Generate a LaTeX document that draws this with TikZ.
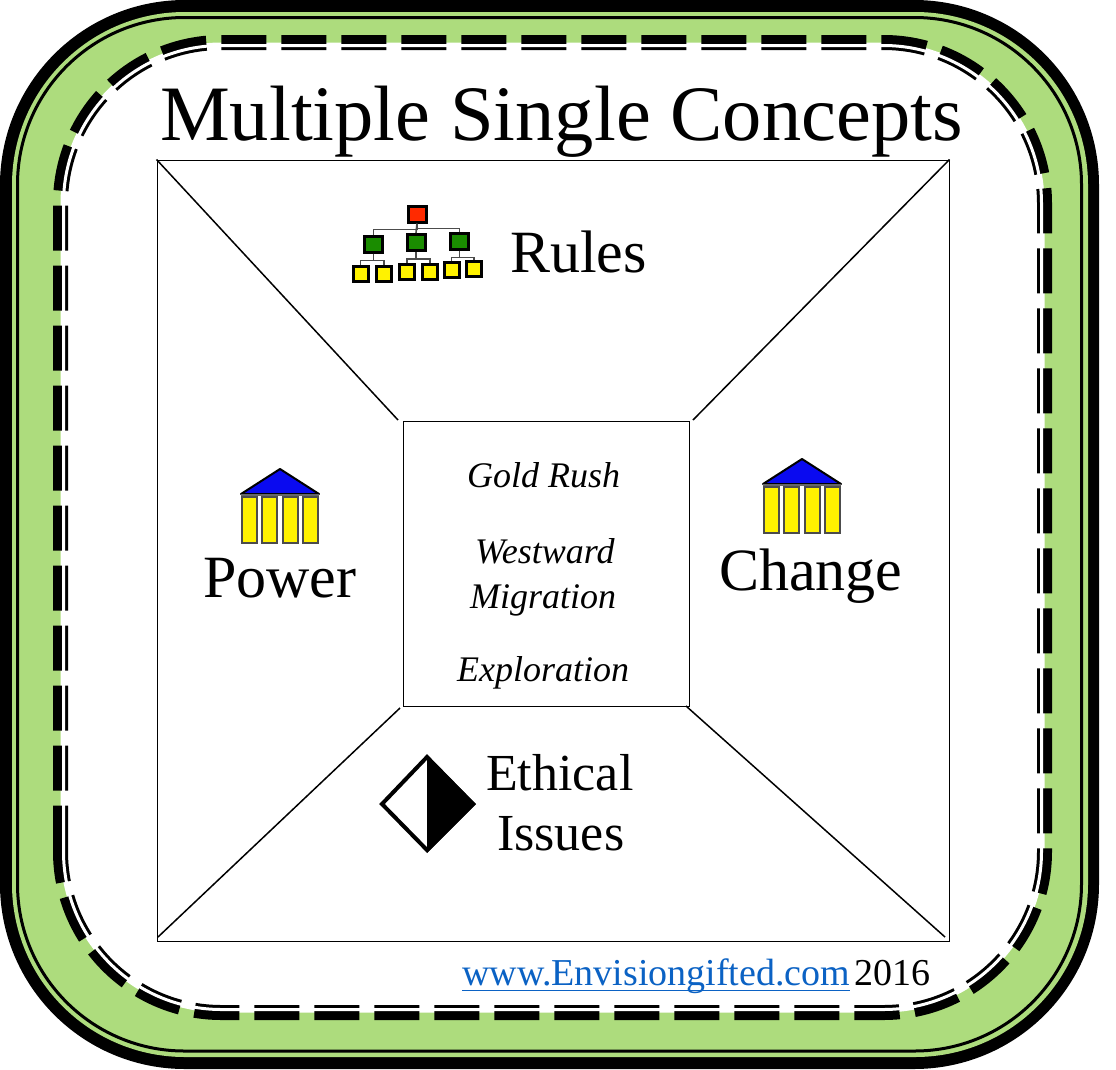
\documentclass[tikz,border=0pt]{standalone}
\usepackage{fontspec}
\setmainfont{Liberation Serif}
\usetikzlibrary{positioning}
\definecolor{framegreen}{HTML}{ADDC7D}
\definecolor{linkblue}{HTML}{0B62C4}
\definecolor{rootred}{HTML}{FF2A00}
\definecolor{leafgreen}{HTML}{1A8C00}
\definecolor{roofblue}{HTML}{0A0AF0}
\begin{document}
\begin{tikzpicture}[x=1pt, y=-1pt,
    thickdash/.style = {line width=15pt, dash pattern=on 45pt off 15pt},
    bigword/.style = {inner sep=0pt, anchor=base west, font=\fontsize{60}{60}\selectfont},
    midword/.style = {inner sep=0pt, anchor=base west, font=\fontsize{52}{52}\selectfont},
    topic/.style = {inner sep=0pt, anchor=base west, font=\fontsize{36}{36}\selectfont\itshape},
    foot/.style = {inner sep=0pt, anchor=base west, font=\fontsize{38}{38}\selectfont},
    orgbox/.style = {draw=black, line width=3pt, inner sep=0pt},
    rootbox/.style = {orgbox, fill=rootred, minimum width=18pt, minimum height=16pt},
    midbox/.style = {orgbox, fill=leafgreen, minimum width=18pt, minimum height=16pt},
    leafbox/.style = {orgbox, fill=yellow, minimum width=15pt, minimum height=15pt},
    orgline/.style = {draw=black!70, line width=1.6pt},
    slant/.style = {line width=1.5pt},
    temple/.pic = {
        \fill[roofblue, draw=black, line width=2pt, line join=round] (0,-25) -- (39,0) -- (-39,0) -- cycle;
        \draw[black!60, line width=2.5pt] (-39,1) -- (39,1);
        \foreach \x in {-30.5,-10.5,10,30.5}
            \draw[fill=yellow, draw=black!70, line width=2pt] (\x-7.5,3) rectangle (\x+7.5,49);
    }]
    \useasboundingbox (0,0) rectangle (1116,1069);
    \fill[black, rounded corners=185pt] (0,0) rectangle (1099,1069);
    \fill[framegreen, rounded corners=173pt] (12,12) rectangle (1088,1057);
    \draw[black, line width=3pt, rounded corners=167pt] (17.5,17.5) rectangle (1081.5,1051);
    \fill[white, rounded corners=161pt] (60.5,42.5) rectangle (1044.5,1012.5);
    \draw[thickdash, rounded corners=161pt] (60.5,850.7) -- (60.5,42.5) -- (1044.5,42.5) -- (1044.5,1012.5) -- (60.5,1012.5) -- (60.5,850.7);
    \draw[white, line width=3pt, rounded corners=158pt] (63.5,45.5) rectangle (1041.5,1009.5);

    \node[inner sep=0pt, anchor=base west, font=\fontsize{78.5}{78.5}\selectfont] (title) at (160,140) {Multiple Single Concepts};

    \node[draw, line width=1pt, inner sep=0pt, minimum width=792pt, minimum height=781pt] (board) at (553,550.5) {};
    \node[draw, line width=1pt, inner sep=0pt, minimum width=286pt, minimum height=285pt] (core) at (546,563.5) {};
    \coordinate (tl) at (398,420);
    \coordinate (tr) at (693,420);
    \coordinate (bl) at (400,708);
    \coordinate (br) at (686,706);
    \coordinate (fl) at (158,937);
    \coordinate (fr) at (945,937);
    \draw[slant] (board.north west) -- (tl);
    \draw[slant] (board.north east) -- (tr);
    \draw[slant] (fl) -- (bl);
    \draw[slant] (fr) -- (br);

    \node[topic] (gold) at (467,487) {Gold Rush};
    \node[topic] (west) at (475,563) {Westward};
    \node[topic] (migr) at (470,608) {Migration};
    \node[topic] (expl) at (457,681) {Exploration};

    \node[rootbox] (r) at (417,214) {};
    \node[midbox] (m1) at (373.5,244) {};
    \node[midbox] (m2) at (416,242.5) {};
    \node[midbox] (m3) at (459.5,241) {};
    \node[leafbox] (l1) at (360.5,273.5) {};
    \node[leafbox] (l2) at (384,273.5) {};
    \node[leafbox] (l3) at (407,271.5) {};
    \node[leafbox] (l4) at (430,271.5) {};
    \node[leafbox] (l5) at (451.5,269.5) {};
    \node[leafbox] (l6) at (474,268.5) {};
    \draw[orgline] (r.south) -- ++(0,6) -| (m1.north);
    \draw[orgline] (r.south) -- (m2.north);
    \draw[orgline] (r.south) -- ++(0,5) -| (m3.north);
    \draw[orgline] (m1.south) -- ++(0,7) -| (l1.north);
    \draw[orgline] (m1.south) -- ++(0,7) -| (l2.north);
    \draw[orgline] (m2.south) -- ++(0,7) -| (l3.north);
    \draw[orgline] (m2.south) -- ++(0,7) -| (l4.north);
    \draw[orgline] (m3.south) -- ++(0,7) -| (l5.north);
    \draw[orgline] (m3.south) -- ++(0,7) -| (l6.north);
    \node[bigword] (rules) at (510,272) {Rules};

    \pic at (280,494) {temple};
    \node[bigword] (power) at (203,597) {Power};
    \pic at (802,484) {temple};
    \node[bigword] (change) at (719,590) {Change};

    \draw[line width=4pt, fill=white, line join=miter] (427,757) -- (382,804) -- (427,850) -- (473,804) -- cycle;
    \fill[black] (427,755) -- (476,804) -- (427,853) -- cycle;
    \node[midword] (ethical) at (486,790) {Ethical};
    \node[midword] (issues) at (497,850) {Issues};

    \node[foot, text=linkblue] (url) at (462,985) {www.Envisiongifted.com};
    \draw[linkblue, line width=1pt] ([yshift=-5pt]url.base west) -- ([yshift=-5pt]url.base east);
    \node[foot] (year) at (854,985) {2016};
\end{tikzpicture}
\end{document}
